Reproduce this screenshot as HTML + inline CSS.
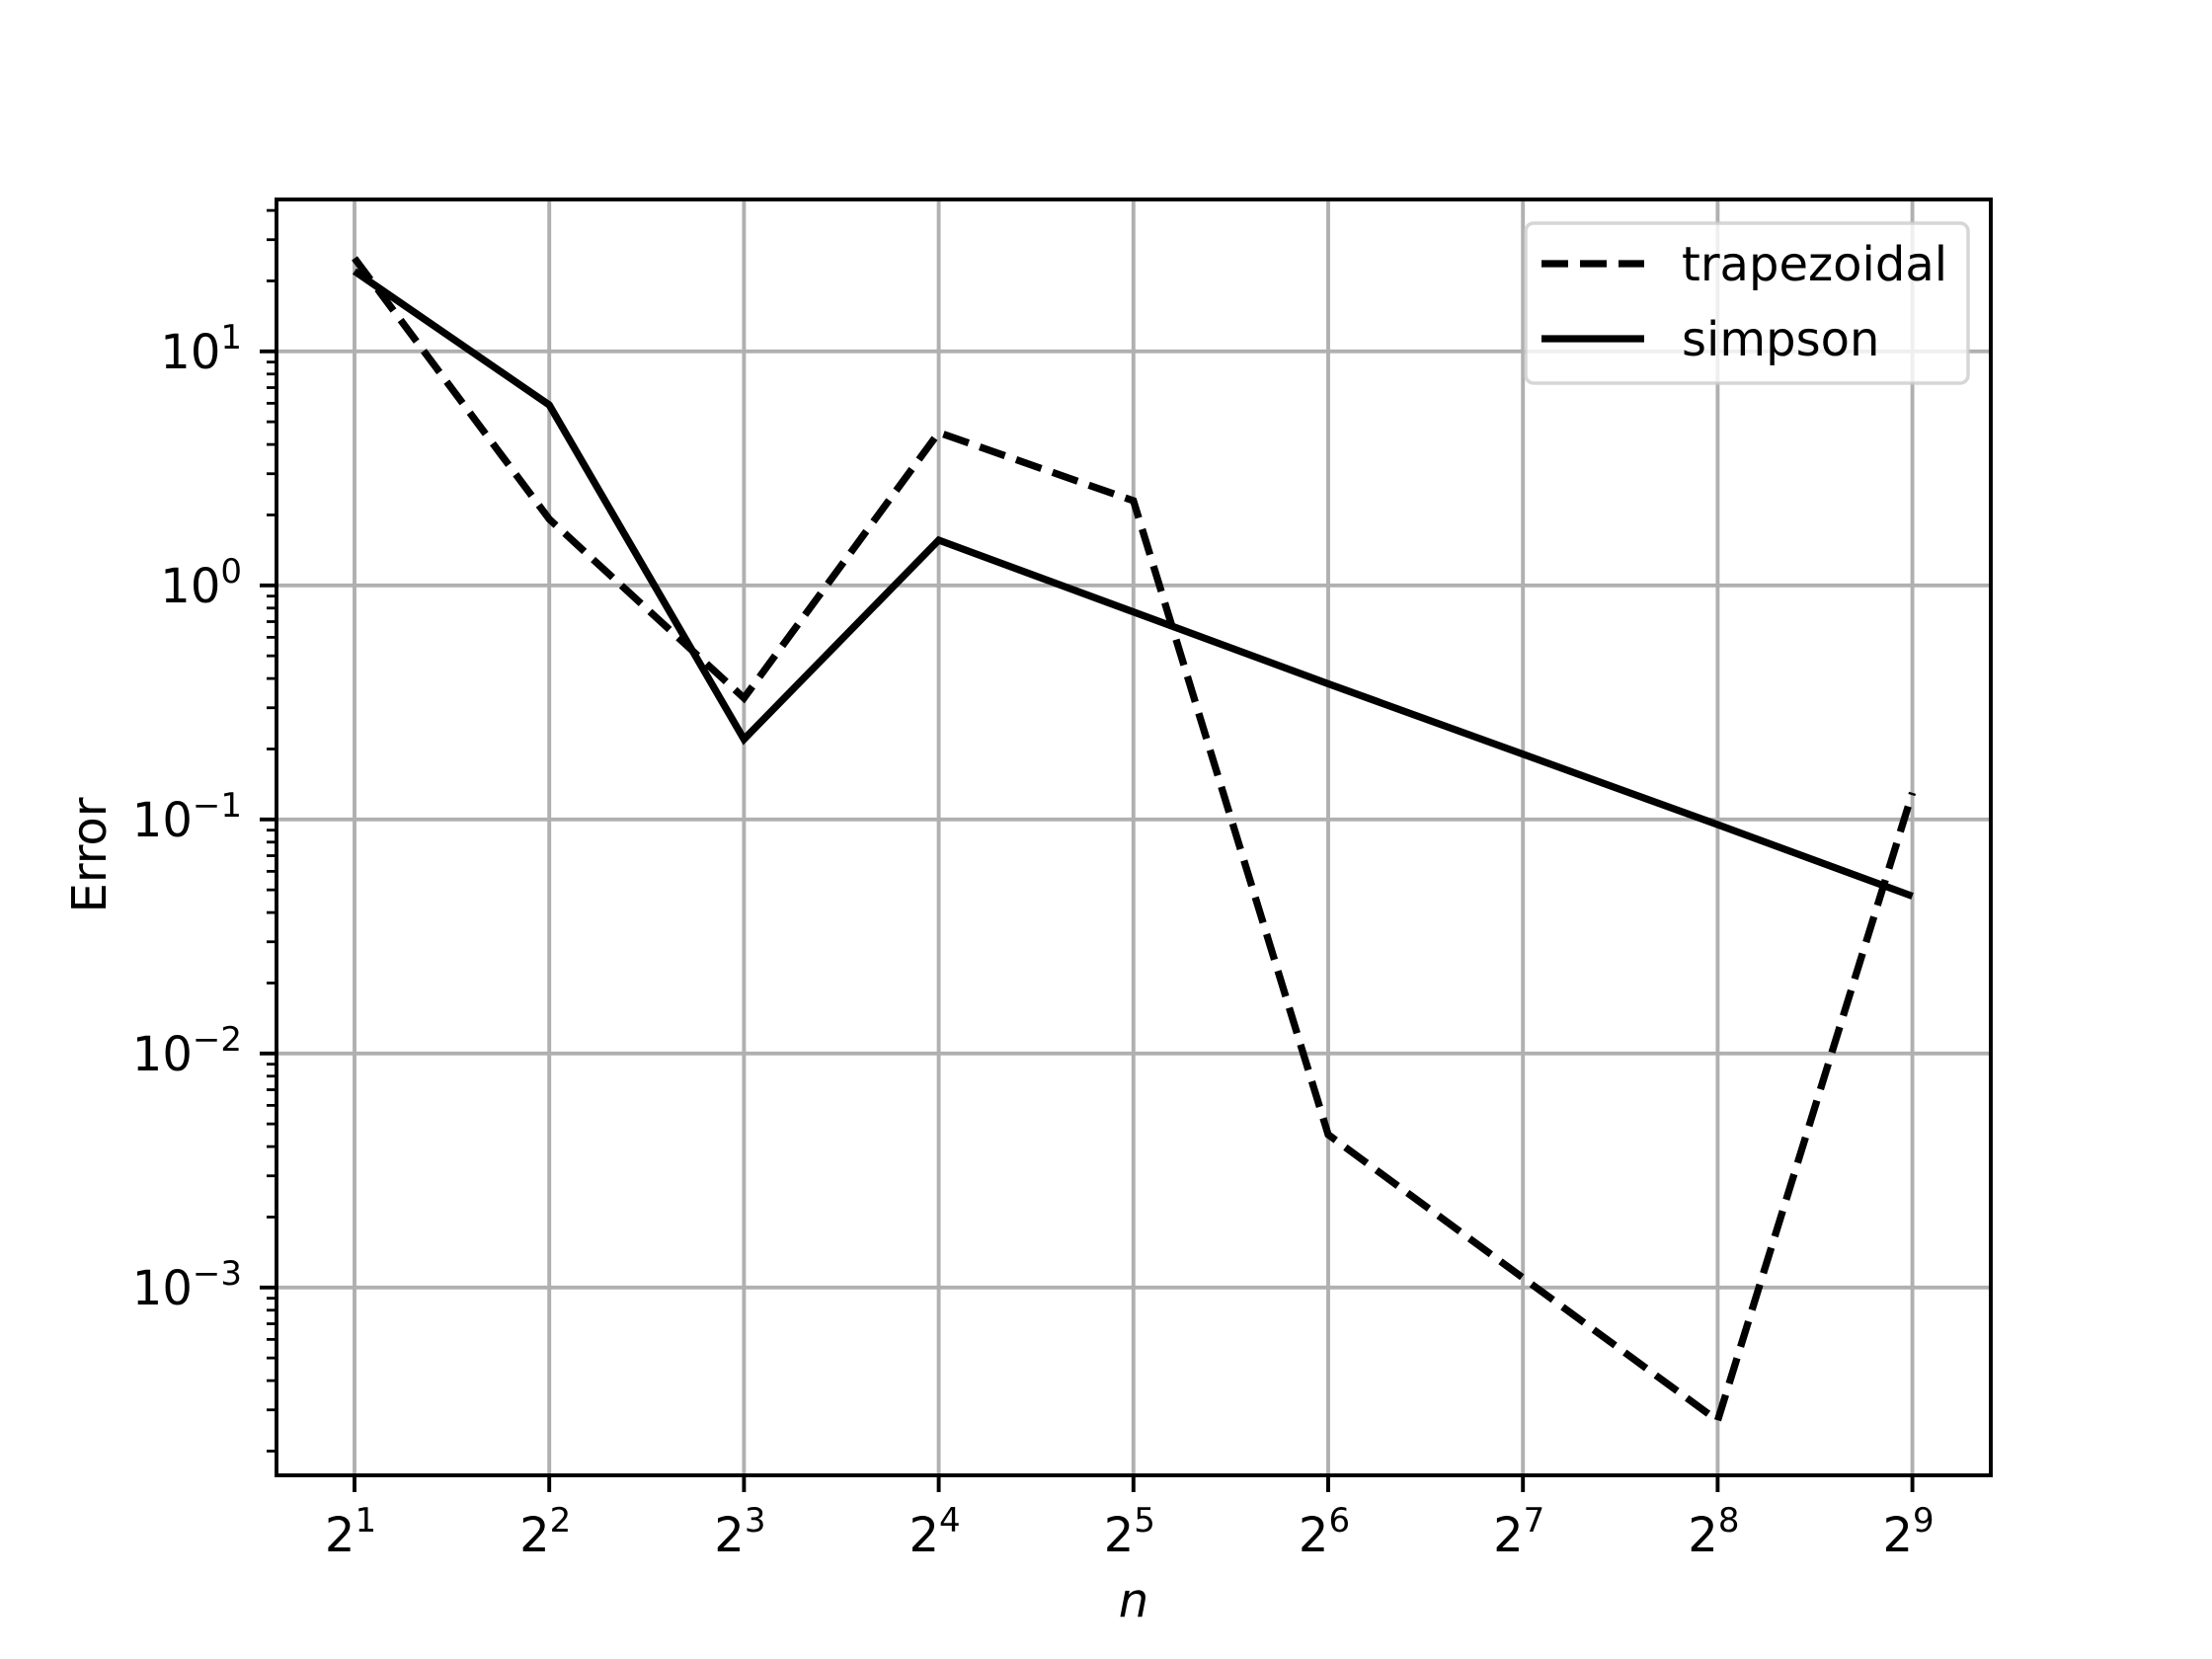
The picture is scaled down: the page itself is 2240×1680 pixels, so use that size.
<!DOCTYPE html>
<html><head><meta charset="utf-8"><style>
html,body{margin:0;padding:0;background:#fff;}
svg{display:block;font-family:"DejaVu Sans","Liberation Sans",sans-serif;}
</style></head><body>
<svg id="chart" width="2240" height="1680" viewBox="0 0 2240 1680" xmlns="http://www.w3.org/2000/svg">
<rect width="2240" height="1680" fill="#fff"/>
<g id="grid"></g>
<g id="series"></g>
<g id="axes"></g>
<text x="0" y="0" transform="translate(107,866) rotate(-90)" text-anchor="middle" font-size="48">Error</text>
<text x="1148" y="1637" text-anchor="middle" font-size="48" font-style="italic">n</text>
<g>
<rect x="1545" y="226" width="448" height="162" rx="8" fill="#fff" fill-opacity="0.8" stroke="#ccc" stroke-opacity="0.8" stroke-width="3.5"/>
<line x1="1561" y1="267" x2="1665" y2="267" stroke="#000" stroke-width="7.3" stroke-dasharray="27,12"/>
<text x="1703" y="284" font-size="48">trapezoidal</text>
<line x1="1561" y1="343" x2="1665" y2="343" stroke="#000" stroke-width="7.3"/>
<text x="1703" y="360" font-size="48">simpson</text>
</g>
</svg>
<script>
const exponents = [1,2,3,4,5,6,7,8,9];
const trapezoidal = [25, 1.92, 0.33, 4.5, 2.3, 0.0045, 0.0011, 0.00027, 0.13];
const simpson = [22, 5.9, 0.22, 1.56, 0.77, 0.38, 0.19, 0.095, 0.047];
const yDecades = [-3,-2,-1,0,1];

const L=280,R=2016,T=202,B=1494;
const NS="http://www.w3.org/2000/svg";
function xs(e){return 359+(e-1)*197.2;}
function ys(v){return 592.8-Math.log10(v)*237;}
function mk(tag,attrs,parent){const el=document.createElementNS(NS,tag);for(const k in attrs)el.setAttribute(k,attrs[k]);parent.appendChild(el);return el;}
const grid=document.getElementById('grid'),axes=document.getElementById('axes'),series=document.getElementById('series');

exponents.forEach(e=>{
  const x=xs(e);
  const g=mk('line',{x1:x,y1:T,x2:x,y2:B,stroke:'#b0b0b0','stroke-width':3.9},grid);
  
  
  const t=mk('line',{x1:x,y1:B,x2:x,y2:B+17,stroke:'#000','stroke-width':3.9},axes);
  
  
  const tx=mk('text',{x:x-4,y:1571,'text-anchor':'middle','font-size':48},axes);
  
  
  tx.innerHTML='2<tspan font-size="34" dy="-20">'+e+'</tspan>';
});
yDecades.forEach(d=>{
  const y=ys(Math.pow(10,d));
  const g=mk('line',{x1:L,y1:y,x2:R,y2:y,stroke:'#b0b0b0','stroke-width':3.9},grid);
  
  
  const t=mk('line',{x1:L-17,y1:y,x2:L,y2:y,stroke:'#000','stroke-width':3.9},axes);
  
  
  const tx=mk('text',{x:245,y:y+17,'text-anchor':'end','font-size':48},axes);
  
  
  tx.innerHTML='10<tspan font-size="34" dy="-20">'+(d<0?'\u2212'+(-d):d)+'</tspan>';
});
for(let d=-4;d<=1;d++){for(let m=2;m<=9;m++){const v=m*Math.pow(10,d);const y=ys(v);if(y<T||y>B)continue;
  const t=mk('line',{x1:L-10,y1:y,x2:L,y2:y,stroke:'#000','stroke-width':2.8},axes);
  
  
}}
const frame=mk('rect',{x:L,y:T,width:R-L,height:B-T,fill:'none',stroke:'#000','stroke-width':3.9},axes);



function pts(arr){return arr.map((v,i)=>xs(exponents[i]).toFixed(1)+','+ys(v).toFixed(1)).join(' ');}
const tl=mk('polyline',{points:pts(trapezoidal),fill:'none',stroke:'#000','stroke-width':7.3,'stroke-dasharray':'27,12','stroke-linejoin':'miter'},series);


const sl=mk('polyline',{points:pts(simpson),fill:'none',stroke:'#000','stroke-width':7.3,'stroke-linejoin':'miter'},series);


</script>
</body></html>
